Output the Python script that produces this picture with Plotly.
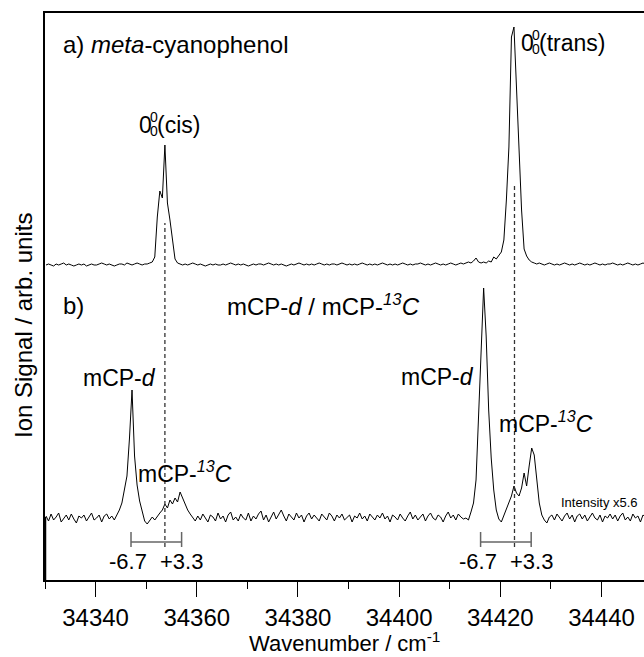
import numpy as np
import plotly.graph_objects as go

# ---------------- data ----------------
WN_START = 34330.2   # first sample (cm-1)
WN_STEP = 0.5        # sampling step (cm-1)

# a) meta-cyanophenol, ion signal (arb. units), rows of 10 samples
signal_a = [
    0, 1, 0, -1, 1, 0, 1, 2, 0, 1,
    0, -1, 0, 1, 0, 1, -1, 0, 1, 0,
    0, 1, 2, 1, 0, 1, 0, -1, 0, 1,
    1, 0, 2, 1, 0, 1, 2, 1, 0, 1,
    1, 2, 3, 8, 48, 74, 67, 120, 62, 45,
    25, 6, 2, 1, 0, 1, 0, 1, 2, 1,
    0, 1, 0, -1, 0, 1, 0, 1, 0, 0,
    1, 0, 1, 2, 1, 0, 1, 0, 1, 0,
    -1, 0, 1, 0, 1, 1, 0, 1, 2, 1,
    0, 1, 0, 1, 0, -1, 0, 1, 0, 1,
    2, 1, 0, 1, 0, 1, 0, 1, 2, 1,
    0, 1, 0, 1, 1, 0, 1, 2, 1, 0,
    1, 0, 1, 0, 1, 2, 1, 0, 1, 0,
    1, 0, 1, 2, 1, 0, 1, 0, 1, 0,
    1, 2, 1, 0, 1, 0, 1, 1, 2, 1,
    0, 1, 0, 1, 2, 1, 0, 1, 0, 1,
    2, 1, 0, 1, 2, 1, 2, 3, 2, 4,
    7, 3, 2, 3, 2, 4, 3, 8, 6, 10,
    13, 25, 65, 118, 228, 238, 180, 120, 55, 16,
    9, 5, 3, 2, 1, 2, 1, 0, 1, 2,
    1, 0, 1, 0, 1, 2, 1, 0, 1, 0,
    1, 2, 1, 0, 1, 0, 1, 2, 1, 0,
    1, 0, 1, 1, 2, 1, 0, 1, 0, 1,
    2, 1, 0, 1, 0, 1, 2, 1, 0, 1,
]

# b) mCP-d / mCP-13C, ion signal x5.6 (arb. units), rows of 10 samples
signal_b = [
    2, -3, 4, -2, 1, 5, -4, 0, 3, -2,
    4, -1, -5, 2, 0, 3, -3, 1, 5, -2,
    0, 3, -4, 2, 4, -1, 2, -2, 3, 8,
    15, 28, 42, 80, 128, 62, 33, 17, 6, -3,
    -6, -2, 1, -2, 2, 5, 8, 14, 10, 18,
    14, 20, 16, 26, 20, 14, 8, 4, 0, -3,
    2, -2, 4, 0, -4, 3, 1, -3, 5, -1,
    2, -4, 3, 6, -2, 1, -3, 4, 0, -2,
    5, -3, 2, -1, 4, 7, -2, 3, -4, 1,
    6, -1, 3, 8, 2, -3, 4, 1, -2, 5,
    0, 3, -4, 2, 5, -1, 3, 0, -3, 4,
    1, -2, 5, 2, -3, 3, 0, 4, -2, 1,
    3, -4, 2, 0, 5, -1, 2, -3, 4, 1,
    -2, 3, 0, 5, -1, 2, -4, 3, 1, -2,
    4, 0, -3, 2, 6, -1, 3, -2, 1, 4,
    -3, 2, 5, 0, -2, 3, 1, -4, 2, 6,
    0, 3, -2, 4, 1, -1, 0, -2, 6, 15,
    38, 105, 170, 230, 182, 108, 60, 28, 8, -1,
    -4, 3, 8, 15, 22, 32, 25, 22, 30, 45,
    32, 52, 70, 63, 42, 15, 3, -2, -5, 1,
    3, -2, 4, 0, -3, 2, 5, -1, 3, -4,
    2, 4, -1, 3, -3, 1, 5, 0, -2, 3,
    -4, 2, 0, 4, -1, 3, -3, 2, 5, -2,
    1, -3, 4, 0, 2, -4, 3, 1, -2, 2,
]

origins = [34353.7, 34422.8]          # 0-0 cis / trans band origins (cm-1)
shift_d = -6.7                         # mCP-d shift (cm-1)
shift_13c = 3.3                        # mCP-13C shift (cm-1)
x_ticks = [34340, 34360, 34380, 34400, 34420, 34440]

# ---------------- layout constants ----------------
OFF_A = 324
OFF_B = 71
FONT = "Liberation Sans, Arial, Helvetica, sans-serif"
X_RANGE = [34330, 34448.4]
Y_RANGE = [9, 576]

wn_a = WN_START + WN_STEP * np.arange(len(signal_a))
wn_b = WN_START + WN_STEP * np.arange(len(signal_b))

fig = go.Figure()
fig.add_trace(go.Scatter(x=wn_a, y=np.array(signal_a) + OFF_A, mode="lines",
                         line=dict(color="black", width=1), hoverinfo="skip"))
fig.add_trace(go.Scatter(x=wn_b, y=np.array(signal_b) + OFF_B, mode="lines",
                         line=dict(color="black", width=1), hoverinfo="skip"))

shapes = []
dash_tops = [366, 404]
for o, top in zip(origins, dash_tops):
    shapes.append(dict(type="line", x0=o, x1=o, y0=42, y1=top, xref="x", yref="y",
                       line=dict(color="#333", width=1.3, dash="4px,3px")))
    lo, hi = o + shift_d, o + shift_13c
    shapes.append(dict(type="line", x0=lo, x1=hi, y0=47, y1=47, xref="x", yref="y",
                       line=dict(color="#666", width=1.5)))
    for e in (lo, hi):
        shapes.append(dict(type="line", x0=e, x1=e, y0=42, y1=57, xref="x", yref="y",
                           line=dict(color="#666", width=1.5)))
# heavier lower part of the left frame (panel b)
shapes.append(dict(type="line", x0=0, x1=0, y0=Y_RANGE[0], y1=72, xref="paper", yref="y",
                   line=dict(color="black", width=2.5)))

ann = []
def txt(x, y, s, size=24, xanchor="center", yanchor="middle", xref="x", yref="y", **kw):
    ann.append(dict(x=x, y=y, text=s, xref=xref, yref=yref, showarrow=False,
                    xanchor=xanchor, yanchor=yanchor,
                    font=dict(family=FONT, size=size, color="black"), **kw))

def origin_label(x, y, tail):
    txt(x, y, "0", size=23, xanchor="left")
    txt(x, y, "0", size=14, xanchor="left", xshift=11, yshift=8)
    txt(x, y, "0", size=14, xanchor="left", xshift=11, yshift=-6)
    txt(x, y, tail, size=23, xanchor="left", xshift=18)

txt(34333.2, 545, "a) <i>meta</i>-cyanophenol", xanchor="left")
origin_label(34348.1, 464, "(cis)")
origin_label(34423.6, 546, "(trans)")
txt(34333.2, 284, "b)", xanchor="left")
txt(34385.0, 284, "mCP-<i>d</i> / mCP-<i><sup>13</sup>C</i>")
txt(34344.8, 211, "mCP-<i>d</i>", size=23)
txt(34357.7, 117, "mCP-<i><sup>13</sup>C</i>", size=23)
txt(34407.6, 212, "mCP-<i>d</i>", size=23)
txt(34429.0, 167, "mCP-<i><sup>13</sup>C</i>", size=23)
txt(34439.7, 87, "Intensity x5.6", size=13)
for o in origins:
    txt(o + shift_d - 0.5, 28, "-6.7", size=22)
    txt(o + shift_13c, 28, "+3.3", size=22)
txt(-0.035, 0.448, "Ion Signal / arb. units", size=24, xref="paper", yref="paper",
    textangle=-90)
txt(0.5, -0.1358, "Wavenumber / cm<sup>-1</sup>", size=22, yanchor="bottom",
    xref="paper", yref="paper", borderpad=0)

fig.update_layout(
    width=644, height=657,
    margin=dict(l=45, r=0, t=13, b=77),
    paper_bgcolor="white", plot_bgcolor="white",
    showlegend=False,
    shapes=shapes, annotations=ann,
    font=dict(family=FONT, size=24, color="black"),
    xaxis=dict(range=X_RANGE, showgrid=False, zeroline=False,
               showline=True, linecolor="black", linewidth=1.5, mirror=True,
               ticks="outside", ticklen=15, tickwidth=1.2, tickcolor="black",
               tickvals=x_ticks, tickformat="d", ticklabelstandoff=0,
               tickfont=dict(family=FONT, size=24),
               minor=dict(dtick=10, tick0=34330, ticks="outside", ticklen=7,
                          tickcolor="black", tickwidth=1.2)),
    yaxis=dict(range=Y_RANGE, showgrid=False, zeroline=False,
               showline=True, linecolor="black", linewidth=1.5,
               showticklabels=False, ticks=""),
)

fig.write_html("out.html")
